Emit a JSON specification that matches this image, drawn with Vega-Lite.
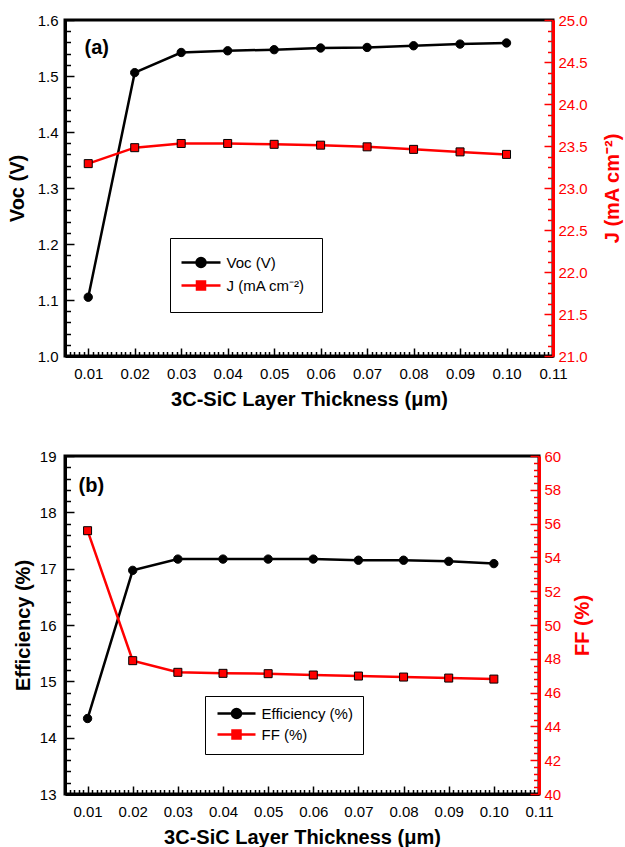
{
  "$schema": "https://vega.github.io/schema/vega-lite/v6.json",
  "padding": {"left": 5, "top": 11, "right": 0, "bottom": 0},
  "config": {
    "font": "Liberation Sans",
    "view": {"stroke": "black", "strokeWidth": 3},
    "axis": {
      "grid": false,
      "labelFont": "Liberation Sans",
      "titleFont": "Liberation Sans",
      "labelFontSize": 15,
      "titleFontSize": 20,
      "titleFontWeight": "bold",
      "labelColor": "black",
      "titleColor": "black",
      "tickColor": "black",
      "domainColor": "black",
      "domainWidth": 3,
      "tickWidth": 1.5,
      "labelOverlap": false,
      "labelFlush": false
    },
    "legend": {
      "labelFont": "Liberation Sans",
      "labelFontSize": 15,
      "labelColor": "black"
    }
  },
  "datasets": {
    "pa": [
      {"t": 0.01, "s": "Voc (V)", "v": 1.105},
      {"t": 0.02, "s": "Voc (V)", "v": 1.506},
      {"t": 0.03, "s": "Voc (V)", "v": 1.542},
      {"t": 0.04, "s": "Voc (V)", "v": 1.545},
      {"t": 0.05, "s": "Voc (V)", "v": 1.547},
      {"t": 0.06, "s": "Voc (V)", "v": 1.550},
      {"t": 0.07, "s": "Voc (V)", "v": 1.551},
      {"t": 0.08, "s": "Voc (V)", "v": 1.554},
      {"t": 0.09, "s": "Voc (V)", "v": 1.557},
      {"t": 0.10, "s": "Voc (V)", "v": 1.559},
      {"t": 0.01, "s": "J (mA cm⁻²)", "v": 23.29},
      {"t": 0.02, "s": "J (mA cm⁻²)", "v": 23.48},
      {"t": 0.03, "s": "J (mA cm⁻²)", "v": 23.53},
      {"t": 0.04, "s": "J (mA cm⁻²)", "v": 23.53},
      {"t": 0.05, "s": "J (mA cm⁻²)", "v": 23.52},
      {"t": 0.06, "s": "J (mA cm⁻²)", "v": 23.51},
      {"t": 0.07, "s": "J (mA cm⁻²)", "v": 23.49},
      {"t": 0.08, "s": "J (mA cm⁻²)", "v": 23.46},
      {"t": 0.09, "s": "J (mA cm⁻²)", "v": 23.43},
      {"t": 0.10, "s": "J (mA cm⁻²)", "v": 23.40}
    ],
    "pb": [
      {"t": 0.01, "s": "Efficiency (%)", "v": 14.34},
      {"t": 0.02, "s": "Efficiency (%)", "v": 16.97},
      {"t": 0.03, "s": "Efficiency (%)", "v": 17.17},
      {"t": 0.04, "s": "Efficiency (%)", "v": 17.17},
      {"t": 0.05, "s": "Efficiency (%)", "v": 17.17},
      {"t": 0.06, "s": "Efficiency (%)", "v": 17.17},
      {"t": 0.07, "s": "Efficiency (%)", "v": 17.15},
      {"t": 0.08, "s": "Efficiency (%)", "v": 17.15},
      {"t": 0.09, "s": "Efficiency (%)", "v": 17.13},
      {"t": 0.10, "s": "Efficiency (%)", "v": 17.09},
      {"t": 0.01, "s": "FF (%)", "v": 55.58},
      {"t": 0.02, "s": "FF (%)", "v": 47.89},
      {"t": 0.03, "s": "FF (%)", "v": 47.20},
      {"t": 0.04, "s": "FF (%)", "v": 47.14},
      {"t": 0.05, "s": "FF (%)", "v": 47.12},
      {"t": 0.06, "s": "FF (%)", "v": 47.04},
      {"t": 0.07, "s": "FF (%)", "v": 46.98},
      {"t": 0.08, "s": "FF (%)", "v": 46.92},
      {"t": 0.09, "s": "FF (%)", "v": 46.86},
      {"t": 0.10, "s": "FF (%)", "v": 46.80}
    ]
  },
  "spacing": 36,
  "resolve": {"scale": {"x": "independent", "y": "independent", "fill": "independent", "stroke": "independent", "shape": "independent"}},
  "vconcat": [
    {
      "width": 488,
      "height": 336,
      "layer": [
        {
          "encoding": {
            "x": {
              "field": "t", "type": "quantitative",
              "scale": {"domain": [0.005, 0.11], "nice": false, "zero": false},
              "axis": {"orient": "bottom", "title": "3C-SiC Layer Thickness (μm)", "values": [0.01,0.02,0.03,0.04,0.05,0.06,0.07,0.08,0.09,0.1,0.11], "format": ".2f", "ticks": false, "labelPadding": 10, "titlePadding": 8}
            },
            "y": {
              "field": "v", "type": "quantitative",
              "scale": {"domain": [1.0, 1.6], "nice": false, "zero": false},
              "axis": {"orient": "left", "title": "Voc (V)", "values": [1,1.1,1.2,1.3,1.4,1.5,1.6], "format": ".1f", "ticks": false, "labelPadding": 7, "titlePadding": 10}
            }
          },
          "layer": [
            {
              "data": {"name": "pa"},
              "transform": [{"filter": "datum.s === 'Voc (V)'"}],
              "mark": {"type": "line", "color": "black", "strokeWidth": 2.5}
            },
            {
              "data": {"name": "pa"},
              "transform": [{"filter": "datum.s === 'Voc (V)'"}],
              "mark": {"type": "point", "shape": "circle", "size": 70, "fill": "black", "stroke": "black", "strokeWidth": 1, "opacity": 1}
            },
            {
              "data": {"values": [{"lab": "(a)", "t": 0.0092, "v": 1.55}]},
              "mark": {"type": "text", "align": "left", "baseline": "middle", "fontSize": 20, "fontWeight": "bold", "color": "black"},
              "encoding": {"text": {"field": "lab"}}
            },
            {
              "data": {"name": "pa"},
              "transform": [{"filter": "datum.s === 'Voc (V)'"}],
              "mark": {"type": "point", "opacity": 0, "filled": true},
              "encoding": {
                "fill": {"field": "s", "type": "nominal", "scale": {"domain": ["Voc (V)", "J (mA cm⁻²)"], "range": ["black", "red"]},
                  "legend": {"orient": "none", "title": null, "legendX": 105, "legendY": 218, "padding": 17, "rowPadding": 4, "symbolOffset": 6.5, "labelOffset": 18, "symbolSize": 100, "symbolStrokeWidth": 2.5, "symbolOpacity": 1, "strokeColor": "black", "fillColor": "white", "labelFontSize": 15}},
                "stroke": {"field": "s", "type": "nominal", "scale": {"domain": ["Voc (V)", "J (mA cm⁻²)"], "range": ["black", "red"]},
                  "legend": {"orient": "none", "title": null, "legendX": 105, "legendY": 218, "padding": 17, "rowPadding": 4, "symbolOffset": 6.5, "labelOffset": 18, "symbolSize": 100, "symbolStrokeWidth": 2.5, "symbolOpacity": 1, "strokeColor": "black", "fillColor": "white", "labelFontSize": 15}},
                "shape": {"field": "s", "type": "nominal", "scale": {"domain": ["Voc (V)", "J (mA cm⁻²)"], "range": ["M-3.9,0H3.9M0.9,0A0.9,0.9,0,1,1,-0.9,0A0.9,0.9,0,1,1,0.9,0", "M-3.9,0H-0.8M0.8,0H3.9M-0.8,-0.8H0.8V0.8H-0.8Z"]},
                  "legend": {"orient": "none", "title": null, "legendX": 105, "legendY": 218, "padding": 17, "rowPadding": 4, "symbolOffset": 6.5, "labelOffset": 18, "symbolSize": 100, "symbolStrokeWidth": 2.5, "symbolOpacity": 1, "strokeColor": "black", "fillColor": "white", "labelFontSize": 15}}
              }
            }
          ]
        },
        {
          "encoding": {
            "x": {"field": "t", "type": "quantitative", "scale": {"domain": [0.005, 0.11], "nice": false, "zero": false}, "axis": null},
            "y": {
              "field": "v", "type": "quantitative",
              "scale": {"domain": [21, 25], "nice": false, "zero": false},
              "axis": {"orient": "right", "title": "J (mA cm⁻²)", "titleColor": "red", "labelColor": "red", "domainColor": "red", "titleAngle": 270, "titleBaseline": "top", "values": [21,21.5,22,22.5,23,23.5,24,24.5,25], "format": ".1f", "ticks": false, "labelPadding": 5, "titlePadding": 15}
            }
          },
          "layer": [
            {
              "data": {"name": "pa"},
              "transform": [{"filter": "datum.s !== 'Voc (V)'"}],
              "mark": {"type": "line", "color": "red", "strokeWidth": 2.5}
            },
            {
              "data": {"name": "pa"},
              "transform": [{"filter": "datum.s !== 'Voc (V)'"}],
              "mark": {"type": "point", "shape": "square", "size": 64, "fill": "red", "stroke": "black", "strokeWidth": 1, "opacity": 1}
            }
          ]
        },
        {
          "data": {"name": "pa"},
          "transform": [{"filter": "datum.s === 'Voc (V)'"}],
          "mark": {"type": "point", "opacity": 0},
          "encoding": {
            "x": {"field": "t", "type": "quantitative", "scale": {"domain": [0.005, 0.11], "nice": false, "zero": false},
              "axis": {"orient": "bottom", "title": null, "labels": false, "domain": false, "values": [0.01,0.02,0.03,0.04,0.05,0.06,0.07,0.08,0.09,0.1,0.11], "tickSize": 8, "offset": -8}},
            "y": {"field": "v", "type": "quantitative", "scale": {"domain": [1.0, 1.6], "nice": false, "zero": false},
              "axis": {"orient": "left", "title": null, "labels": false, "domain": false, "values": [1,1.1,1.2,1.3,1.4,1.5,1.6], "tickSize": 9, "offset": -9}}
          }
        },
        {
          "data": {"name": "pa"},
          "transform": [{"filter": "datum.s === 'Voc (V)'"}],
          "mark": {"type": "point", "opacity": 0},
          "encoding": {
            "x": {"field": "t", "type": "quantitative", "scale": {"domain": [0.005, 0.11], "nice": false, "zero": false},
              "axis": {"orient": "bottom", "title": null, "labels": false, "domain": false, "tickSize": 4.5, "offset": -4.5, "values": [0.005,0.006,0.007,0.008,0.009,0.011,0.012,0.013,0.014,0.015,0.016,0.017,0.018,0.019,0.021,0.022,0.023,0.024,0.025,0.026,0.027,0.028,0.029,0.031,0.032,0.033,0.034,0.035,0.036,0.037,0.038,0.039,0.041,0.042,0.043,0.044,0.045,0.046,0.047,0.048,0.049,0.051,0.052,0.053,0.054,0.055,0.056,0.057,0.058,0.059,0.061,0.062,0.063,0.064,0.065,0.066,0.067,0.068,0.069,0.071,0.072,0.073,0.074,0.075,0.076,0.077,0.078,0.079,0.081,0.082,0.083,0.084,0.085,0.086,0.087,0.088,0.089,0.091,0.092,0.093,0.094,0.095,0.096,0.097,0.098,0.099,0.101,0.102,0.103,0.104,0.105,0.106,0.107,0.108,0.109]}},
            "y": {"field": "v", "type": "quantitative", "scale": {"domain": [1.0, 1.6], "nice": false, "zero": false},
              "axis": {"orient": "left", "title": null, "labels": false, "domain": false, "tickSize": 5.5, "offset": -5.5, "values": [1.02,1.04,1.06,1.08,1.12,1.14,1.16,1.18,1.22,1.24,1.26,1.28,1.32,1.34,1.36,1.38,1.42,1.44,1.46,1.48,1.52,1.54,1.56,1.58]}}
          }
        },
        {
          "data": {"name": "pa"},
          "transform": [{"filter": "datum.s !== 'Voc (V)'"}],
          "mark": {"type": "point", "opacity": 0},
          "encoding": {
            "x": {"field": "t", "type": "quantitative", "scale": {"domain": [0.005, 0.11], "nice": false, "zero": false}, "axis": null},
            "y": {"field": "v", "type": "quantitative", "scale": {"domain": [21, 25], "nice": false, "zero": false},
              "axis": {"orient": "right", "title": null, "labels": false, "domain": false, "tickColor": "red", "tickSize": 9, "offset": -9, "values": [21,21.5,22,22.5,23,23.5,24,24.5,25]}}
          }
        },
        {
          "data": {"name": "pa"},
          "transform": [{"filter": "datum.s !== 'Voc (V)'"}],
          "mark": {"type": "point", "opacity": 0},
          "encoding": {
            "x": {"field": "t", "type": "quantitative", "scale": {"domain": [0.005, 0.11], "nice": false, "zero": false}, "axis": null},
            "y": {"field": "v", "type": "quantitative", "scale": {"domain": [21, 25], "nice": false, "zero": false},
              "axis": {"orient": "right", "title": null, "labels": false, "domain": false, "tickColor": "red", "tickSize": 5.5, "offset": -5.5, "values": [21.125,21.25,21.375,21.625,21.75,21.875,22.125,22.25,22.375,22.625,22.75,22.875,23.125,23.25,23.375,23.625,23.75,23.875,24.125,24.25,24.375,24.625,24.75,24.875]}}
          }
        }
      ],
      "resolve": {"scale": {"x": "independent", "y": "independent"}}
    },
    {
      "width": 474,
      "height": 338,
      "layer": [
        {
          "encoding": {
            "x": {
              "field": "t", "type": "quantitative",
              "scale": {"domain": [0.005, 0.11], "nice": false, "zero": false},
              "axis": {"orient": "bottom", "title": "3C-SiC Layer Thickness (μm)", "values": [0.01,0.02,0.03,0.04,0.05,0.06,0.07,0.08,0.09,0.1,0.11], "format": ".2f", "ticks": false, "labelPadding": 10, "titlePadding": 8}
            },
            "y": {
              "field": "v", "type": "quantitative",
              "scale": {"domain": [13, 19], "nice": false, "zero": false},
              "axis": {"orient": "left", "title": "Efficiency (%)", "values": [13,14,15,16,17,18,19], "format": "d", "ticks": false, "labelPadding": 9, "titlePadding": 6}
            }
          },
          "layer": [
            {
              "data": {"name": "pb"},
              "transform": [{"filter": "datum.s === 'Efficiency (%)'"}],
              "mark": {"type": "line", "color": "black", "strokeWidth": 2.5}
            },
            {
              "data": {"name": "pb"},
              "transform": [{"filter": "datum.s === 'Efficiency (%)'"}],
              "mark": {"type": "point", "shape": "circle", "size": 70, "fill": "black", "stroke": "black", "strokeWidth": 1, "opacity": 1}
            },
            {
              "data": {"values": [{"lab": "(b)", "t": 0.008, "v": 18.47}]},
              "mark": {"type": "text", "align": "left", "baseline": "middle", "fontSize": 20, "fontWeight": "bold", "color": "black"},
              "encoding": {"text": {"field": "lab"}}
            },
            {
              "data": {"name": "pb"},
              "transform": [{"filter": "datum.s === 'Efficiency (%)'"}],
              "mark": {"type": "point", "opacity": 0, "filled": true},
              "encoding": {
                "fill": {"field": "s", "type": "nominal", "scale": {"domain": ["Efficiency (%)", "FF (%)"], "range": ["black", "red"]},
                  "legend": {"orient": "none", "title": null, "legendX": 140, "legendY": 240, "padding": 10, "rowPadding": 2, "symbolOffset": 14, "labelOffset": 17.5, "symbolSize": 100, "symbolStrokeWidth": 2.5, "symbolOpacity": 1, "strokeColor": "black", "fillColor": "white", "labelFontSize": 15}},
                "stroke": {"field": "s", "type": "nominal", "scale": {"domain": ["Efficiency (%)", "FF (%)"], "range": ["black", "red"]},
                  "legend": {"orient": "none", "title": null, "legendX": 140, "legendY": 240, "padding": 10, "rowPadding": 2, "symbolOffset": 14, "labelOffset": 17.5, "symbolSize": 100, "symbolStrokeWidth": 2.5, "symbolOpacity": 1, "strokeColor": "black", "fillColor": "white", "labelFontSize": 15}},
                "shape": {"field": "s", "type": "nominal", "scale": {"domain": ["Efficiency (%)", "FF (%)"], "range": ["M-3.8,0H3.8M0.9,0A0.9,0.9,0,1,1,-0.9,0A0.9,0.9,0,1,1,0.9,0", "M-3.8,0H-0.8M0.8,0H3.8M-0.8,-0.8H0.8V0.8H-0.8Z"]},
                  "legend": {"orient": "none", "title": null, "legendX": 140, "legendY": 240, "padding": 10, "rowPadding": 2, "symbolOffset": 14, "labelOffset": 17.5, "symbolSize": 100, "symbolStrokeWidth": 2.5, "symbolOpacity": 1, "strokeColor": "black", "fillColor": "white", "labelFontSize": 15}}
              }
            }
          ]
        },
        {
          "encoding": {
            "x": {"field": "t", "type": "quantitative", "scale": {"domain": [0.005, 0.11], "nice": false, "zero": false}, "axis": null},
            "y": {
              "field": "v", "type": "quantitative",
              "scale": {"domain": [40, 60], "nice": false, "zero": false},
              "axis": {"orient": "right", "title": "FF (%)", "titleColor": "red", "labelColor": "red", "domainColor": "red", "titleAngle": 270, "titleBaseline": "top", "values": [40,42,44,46,48,50,52,54,56,58,60], "format": "d", "ticks": false, "labelPadding": 5, "titlePadding": 12}
            }
          },
          "layer": [
            {
              "data": {"name": "pb"},
              "transform": [{"filter": "datum.s === 'FF (%)'"}],
              "mark": {"type": "line", "color": "red", "strokeWidth": 2.5}
            },
            {
              "data": {"name": "pb"},
              "transform": [{"filter": "datum.s === 'FF (%)'"}],
              "mark": {"type": "point", "shape": "square", "size": 64, "fill": "red", "stroke": "black", "strokeWidth": 1, "opacity": 1}
            }
          ]
        },
        {
          "data": {"name": "pb"},
          "transform": [{"filter": "datum.s === 'Efficiency (%)'"}],
          "mark": {"type": "point", "opacity": 0},
          "encoding": {
            "x": {"field": "t", "type": "quantitative", "scale": {"domain": [0.005, 0.11], "nice": false, "zero": false},
              "axis": {"orient": "bottom", "title": null, "labels": false, "domain": false, "values": [0.01,0.02,0.03,0.04,0.05,0.06,0.07,0.08,0.09,0.1,0.11], "tickSize": 8, "offset": -8}},
            "y": {"field": "v", "type": "quantitative", "scale": {"domain": [13, 19], "nice": false, "zero": false},
              "axis": {"orient": "left", "title": null, "labels": false, "domain": false, "values": [13,14,15,16,17,18,19], "tickSize": 9, "offset": -9}}
          }
        },
        {
          "data": {"name": "pb"},
          "transform": [{"filter": "datum.s === 'Efficiency (%)'"}],
          "mark": {"type": "point", "opacity": 0},
          "encoding": {
            "x": {"field": "t", "type": "quantitative", "scale": {"domain": [0.005, 0.11], "nice": false, "zero": false},
              "axis": {"orient": "bottom", "title": null, "labels": false, "domain": false, "tickSize": 4.5, "offset": -4.5, "values": [0.005,0.006,0.007,0.008,0.009,0.011,0.012,0.013,0.014,0.015,0.016,0.017,0.018,0.019,0.021,0.022,0.023,0.024,0.025,0.026,0.027,0.028,0.029,0.031,0.032,0.033,0.034,0.035,0.036,0.037,0.038,0.039,0.041,0.042,0.043,0.044,0.045,0.046,0.047,0.048,0.049,0.051,0.052,0.053,0.054,0.055,0.056,0.057,0.058,0.059,0.061,0.062,0.063,0.064,0.065,0.066,0.067,0.068,0.069,0.071,0.072,0.073,0.074,0.075,0.076,0.077,0.078,0.079,0.081,0.082,0.083,0.084,0.085,0.086,0.087,0.088,0.089,0.091,0.092,0.093,0.094,0.095,0.096,0.097,0.098,0.099,0.101,0.102,0.103,0.104,0.105,0.106,0.107,0.108,0.109]}},
            "y": {"field": "v", "type": "quantitative", "scale": {"domain": [13, 19], "nice": false, "zero": false},
              "axis": {"orient": "left", "title": null, "labels": false, "domain": false, "tickSize": 5.5, "offset": -5.5, "values": [13.2,13.4,13.6,13.8,14.2,14.4,14.6,14.8,15.2,15.4,15.6,15.8,16.2,16.4,16.6,16.8,17.2,17.4,17.6,17.8,18.2,18.4,18.6,18.8]}}
          }
        },
        {
          "data": {"name": "pb"},
          "transform": [{"filter": "datum.s === 'FF (%)'"}],
          "mark": {"type": "point", "opacity": 0},
          "encoding": {
            "x": {"field": "t", "type": "quantitative", "scale": {"domain": [0.005, 0.11], "nice": false, "zero": false}, "axis": null},
            "y": {"field": "v", "type": "quantitative", "scale": {"domain": [40, 60], "nice": false, "zero": false},
              "axis": {"orient": "right", "title": null, "labels": false, "domain": false, "tickColor": "red", "tickSize": 9, "offset": -9, "values": [40,42,44,46,48,50,52,54,56,58,60]}}
          }
        },
        {
          "data": {"name": "pb"},
          "transform": [{"filter": "datum.s === 'FF (%)'"}],
          "mark": {"type": "point", "opacity": 0},
          "encoding": {
            "x": {"field": "t", "type": "quantitative", "scale": {"domain": [0.005, 0.11], "nice": false, "zero": false}, "axis": null},
            "y": {"field": "v", "type": "quantitative", "scale": {"domain": [40, 60], "nice": false, "zero": false},
              "axis": {"orient": "right", "title": null, "labels": false, "domain": false, "tickColor": "red", "tickSize": 5.5, "offset": -5.5, "values": [40.4,40.8,41.2,41.6,42.4,42.8,43.2,43.6,44.4,44.8,45.2,45.6,46.4,46.8,47.2,47.6,48.4,48.8,49.2,49.6,50.4,50.8,51.2,51.6,52.4,52.8,53.2,53.6,54.4,54.8,55.2,55.6,56.4,56.8,57.2,57.6,58.4,58.8,59.2,59.6]}}
          }
        }
      ],
      "resolve": {"scale": {"x": "independent", "y": "independent"}}
    }
  ]
}
